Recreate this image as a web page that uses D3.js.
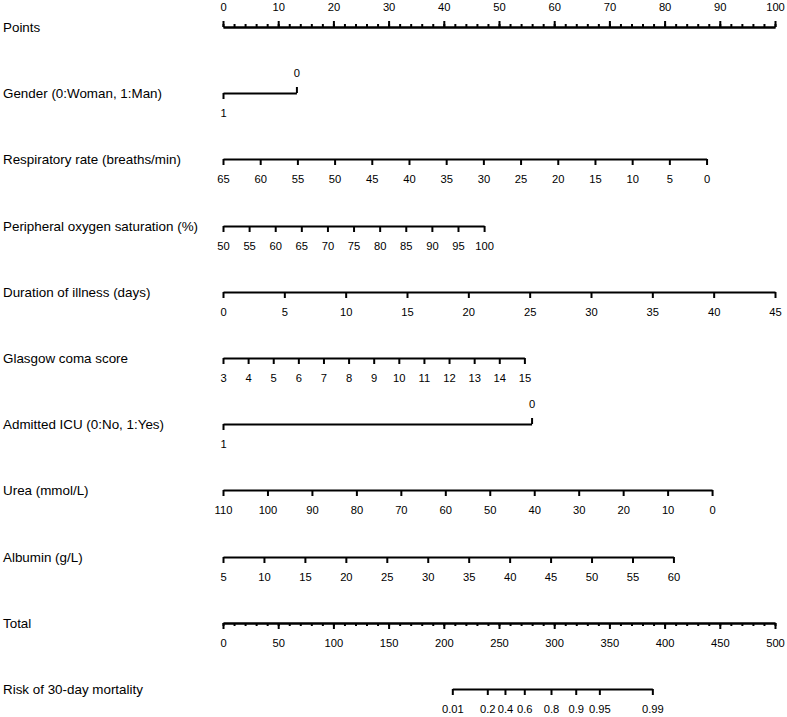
<!DOCTYPE html>
<html>
<head>
<meta charset="utf-8">
<script src="https://cdn.jsdelivr.net/npm/d3@7"></script>
<style>
  body { margin: 0; background: #fff; }
  svg { display: block; }
</style>
</head>
<body>
<svg id="nomo" width="787" height="717"></svg>
<script>
// row titles, top to bottom
var rowTitles = ['Points', 'Gender (0:Woman, 1:Man)', 'Respiratory rate (breaths/min)',
	'Peripheral oxygen saturation (%)', 'Duration of illness (days)', 'Glasgow coma score',
	'Admitted ICU (0:No, 1:Yes)', 'Urea (mmol/L)', 'Albumin (g/L)', 'Total', 'Risk of 30-day mortality'];

var pointsMajor = [0, 10, 20, 30, 40, 50, 60, 70, 80, 90, 100];
var pointsMinor = d3.range(0, 101, 2);

// each variable: tick labels and the points of its two ends
var genderTicks = [1, 0];
var genderPts = [0, 13.3];
var respTicks = [65, 60, 55, 50, 45, 40, 35, 30, 25, 20, 15, 10, 5, 0];
var respPts = [0, 87.6];
var spo2Ticks = [50, 55, 60, 65, 70, 75, 80, 85, 90, 95, 100];
var spo2Pts = [0, 47.3];
var durTicks = [0, 5, 10, 15, 20, 25, 30, 35, 40, 45];
var durPts = [0, 100];
var gcsTicks = [3, 4, 5, 6, 7, 8, 9, 10, 11, 12, 13, 14, 15];
var gcsPts = [0, 54.6];
var icuTicks = [1, 0];
var icuPts = [0, 55.9];
var ureaTicks = [110, 100, 90, 80, 70, 60, 50, 40, 30, 20, 10, 0];
var ureaPts = [0, 88.6];
var albTicks = [5, 10, 15, 20, 25, 30, 35, 40, 45, 50, 55, 60];
var albPts = [0, 81.6];

var totalMajor = [0, 50, 100, 150, 200, 250, 300, 350, 400, 450, 500];
var totalMinor = d3.range(0, 501, 10);

// risk labels and the total points where they sit
var riskTicks = [0.01, 0.2, 0.4, 0.6, 0.8, 0.9, 0.95, 0.99];
var riskTotals = [207.7, 239.4, 255.4, 272.9, 297.1, 319.5, 340.9, 388.9];

var svg = d3.select('#nomo');
var FONT = '"Liberation Sans", Arial, sans-serif';

var x = d3.scaleLinear().domain([0, 100]).range([223, 775]);
var xTotal = d3.scaleLinear().domain([0, 500]).range([223, 775]);
var rowY = d3.scaleLinear().domain([0, 10]).range([27, 689]);

svg.append('rect').attr('width', 787).attr('height', 717).attr('fill', '#fff');

svg.selectAll('text.title').data(rowTitles).enter().append('text')
	.attr('class', 'title')
	.attr('x', 3)
	.attr('y', function(d, i){ return Math.round(rowY(i)) + 5; })
	.attr('font-family', FONT)
	.attr('font-size', 13.4)
	.attr('fill', '#000')
	.text(function(d){ return d; });

function styleAxis(g){
	g.attr('font-family', FONT).attr('font-size', 11.2);
	g.selectAll('path.domain').attr('stroke', '#000').attr('stroke-width', 2);
	g.selectAll('.tick line').attr('stroke', '#000').attr('stroke-width', 2);
	g.selectAll('.tick text').attr('fill', '#000');
}

function addAxis(row, axis){
	var g = svg.append('g').attr('transform', 'translate(0,' + Math.round(rowY(row)) + ')').call(axis);
	styleAxis(g);
	return g;
}

// Points (labels on top)
addAxis(0, d3.axisTop(x).tickValues(pointsMinor).tickSize(3).tickSizeOuter(0).tickFormat(''));
addAxis(0, d3.axisTop(x).tickValues(pointsMajor).tickSize(6).tickSizeOuter(0).tickPadding(10));

// plain variables
function linearRow(row, ticks, pts){
	var s = d3.scaleLinear().domain([ticks[0], ticks[ticks.length - 1]]).range([x(pts[0]), x(pts[1])]);
	addAxis(row, d3.axisBottom(s).tickValues(ticks).tickSize(6).tickSizeOuter(0).tickPadding(10));
}

// binary variables: "1" hangs down, "0" stands up
function binaryRow(row, ticks, pts){
	var s = d3.scaleLinear().domain(ticks).range([x(pts[0]), x(pts[1])]);
	var fmt = d3.format('d');
	addAxis(row, d3.axisBottom(s).tickValues([ticks[0]]).tickFormat(fmt).tickSize(6).tickSizeOuter(0).tickPadding(10));
	var g = addAxis(row, d3.axisTop(s).tickValues([ticks[1]]).tickFormat(fmt).tickSize(6).tickSizeOuter(0).tickPadding(10));
	g.select('path.domain').remove();
}

binaryRow(1, genderTicks, genderPts);
linearRow(2, respTicks, respPts);
linearRow(3, spo2Ticks, spo2Pts);
linearRow(4, durTicks, durPts);
linearRow(5, gcsTicks, gcsPts);
binaryRow(6, icuTicks, icuPts);
linearRow(7, ureaTicks, ureaPts);
linearRow(8, albTicks, albPts);

// Total
addAxis(9, d3.axisBottom(xTotal).tickValues(totalMinor).tickSize(3).tickSizeOuter(0).tickFormat(''));
addAxis(9, d3.axisBottom(xTotal).tickValues(totalMajor).tickSize(6).tickSizeOuter(0).tickPadding(10));

// Risk
var xRisk = d3.scaleLinear().domain(riskTicks).range(riskTotals.map(function(t){ return xTotal(t); }));
addAxis(10, d3.axisBottom(xRisk).tickValues(riskTicks).tickSize(6).tickSizeOuter(0).tickPadding(10)
	.tickFormat(function(d){ return String(d); }));
</script>
</body>
</html>
